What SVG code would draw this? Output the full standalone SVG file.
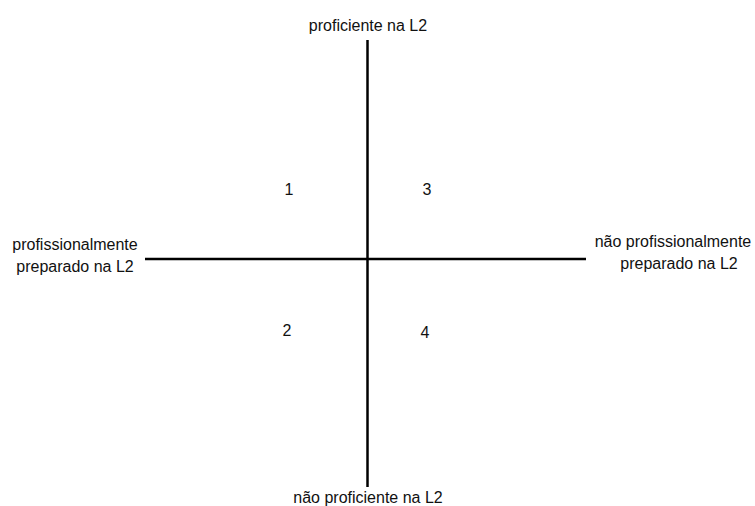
<svg xmlns="http://www.w3.org/2000/svg" width="755" height="506" viewBox="0 0 755 506">
<style>
text{font-family:"Liberation Sans",Arial,sans-serif;font-size:16px;fill:#111;text-anchor:middle}
.ax{stroke:#000;stroke-width:2.5;fill:none}
</style>
<rect width="755" height="506" fill="#fff"/>
<g id="connectors">
<line class="ax" x1="367.5" y1="40" x2="367.5" y2="487"/>
<line class="ax" x1="145" y1="259" x2="586" y2="259"/>
</g>
<g id="top"><text x="368" y="31">proficiente na L2</text></g>
<g id="bottom"><text x="368" y="503">não proficiente na L2</text></g>
<g id="left"><text x="75" y="250">profissionalmente</text><text x="75" y="272">preparado na L2</text></g>
<g id="right"><text x="673" y="247">não profissionalmente</text><text x="679" y="269">preparado na L2</text></g>
<g id="q1"><text x="289" y="195">1</text></g>
<g id="q3"><text x="427" y="195">3</text></g>
<g id="q2"><text x="287" y="336">2</text></g>
<g id="q4"><text x="425" y="338">4</text></g>
</svg>
